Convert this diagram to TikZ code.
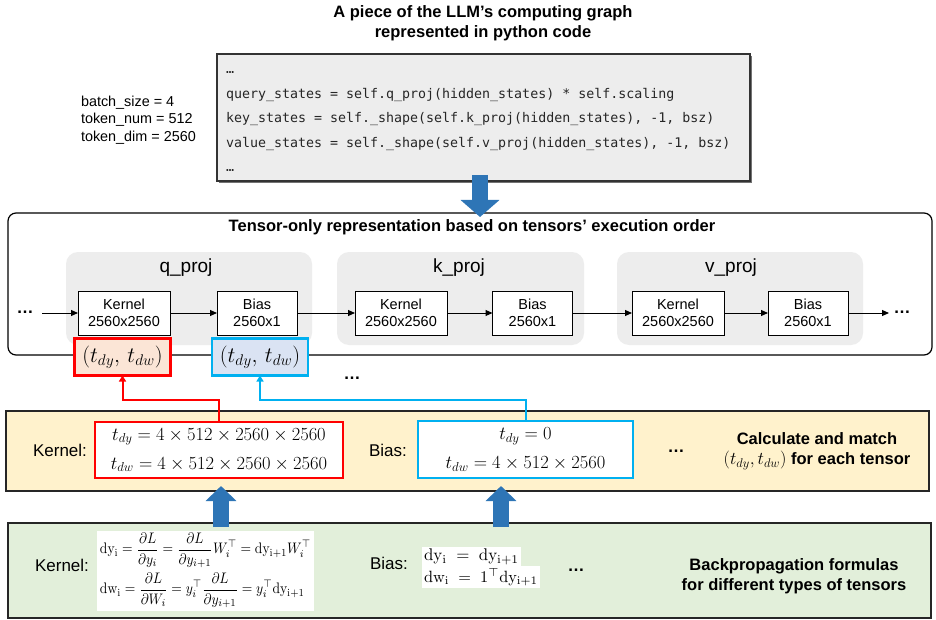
\documentclass[tikz,border=0pt]{standalone}
\usepackage{fix-cm}
\usepackage{amsmath}
\usepackage{graphicx}
\usepackage[no-math]{fontspec}
\setmainfont{Liberation Sans}
\newfontfamily\codefont{DejaVu Sans Mono}
\usetikzlibrary{arrows.meta,calc}
\definecolor{codegray}{HTML}{EDEDED}
\definecolor{grpgray}{HTML}{EDEDED}
\definecolor{bandyellow}{HTML}{FFF2CC}
\definecolor{bandgreen}{HTML}{E2EFDA}
\definecolor{tuplered}{HTML}{FBE5D6}
\definecolor{tupleblue}{HTML}{DAE3F3}
\definecolor{lineblue}{HTML}{00B0F0}
\definecolor{arrowblue}{HTML}{2E75B6}
\begin{document}
\begin{tikzpicture}[x=1pt,y=-1pt,
  every node/.style={inner sep=0pt, outer sep=0pt},
  titletext/.style={font=\fontsize{16.5}{20.5}\selectfont\bfseries, align=center},
  tensorbox/.style={draw=black, line width=0.9pt, fill=white, minimum height=44pt, align=center, font=\fontsize{14.5}{17}\selectfont},
  kernbox/.style={tensorbox, minimum width=92pt},
  biasbox/.style={tensorbox, minimum width=80pt},
  grpbox/.style={fill=grpgray, rounded corners=12pt, minimum height=93pt},
  grplabel/.style={font=\fontsize{19}{22}\selectfont},
  flow/.style={line width=1pt, -{Triangle[length=7pt,width=6pt]}},
  bandlabel/.style={font=\fontsize{17}{20}\selectfont},
  dotstext/.style={font=\fontsize{17}{19}\selectfont\bfseries},
  tuplebox/.style={line width=2.5pt, minimum width=96pt, minimum height=37pt, font=\fontsize{22}{26}\selectfont},
  calcbox/.style={line width=2.5pt, fill=white, align=center, font=\fontsize{18.5}{29}\selectfont},
  band/.style={draw=black!85, line width=1.5pt, minimum width=923pt},
  bigarrow/.style={draw=arrowblue, line width=16pt, -{Triangle[length=17pt,width=38pt]}},
  smallarrow/.style={draw=arrowblue, line width=16pt, -{Triangle[length=15pt,width=30pt]}},
  redlink/.style={draw=red, line width=2pt, -{Triangle[length=6pt,width=7pt]}},
  bluelink/.style={draw=lineblue, line width=2pt, -{Triangle[length=6pt,width=7pt]}},
  whitebox/.style={fill=white, inner sep=2pt}
]
\useasboundingbox (0,0) rectangle (936,620);

% title and parameters
\node[titletext] (title) at (483,23) {A piece of the LLM’s computing graph\\represented in python code};
\node[anchor=west, align=left, font=\fontsize{14.4}{17.5}\selectfont] (params) at (81,120)
  {batch\_size = 4\\token\_num = 512\\token\_dim = 2560};

% code box
\fill[black!55] (219,56) rectangle (752,183);
\node[draw=black!80, line width=1.2pt, fill=codegray, minimum width=533pt, minimum height=127pt] (codebox) at (483.5,117.5) {};
\node[anchor=west, align=left, font=\codefont\fontsize{13.3}{24.5}\selectfont, text=black!85] (code) at (226,118)
  {\strut…\\
   \strut query\_states = self.q\_proj(hidden\_states) * self.scaling\\
   \strut key\_states = self.\_shape(self.k\_proj(hidden\_states), -1, bsz)\\
   \strut value\_states = self.\_shape(self.v\_proj(hidden\_states), -1, bsz)\\
   \strut…};

% tensor-only representation
\node[draw=black, line width=1.2pt, fill=white, rounded corners=8pt, minimum width=924pt, minimum height=142pt] (big) at (470,284) {};
\node[titletext] (bigtitle) at (472,227.5) {Tensor-only representation based on tensors’ execution order};

\node[grpbox, minimum width=246pt] (gq) at (189,298.5) {};
\node[grpbox, minimum width=247pt] (gk) at (460.5,298.5) {};
\node[grpbox, minimum width=246pt] (gv) at (740,298.5) {};
\node[grplabel] (lq) at (186,268) {q\_proj};
\node[grplabel] (lk) at (459,268) {k\_proj};
\node[grplabel] (lv) at (731,268) {v\_proj};

\node[kernbox] (kq) at (124,313) {Kernel\\2560x2560};
\node[biasbox] (bq) at (257,313) {Bias\\2560x1};
\node[kernbox] (kk) at (401,313) {Kernel\\2560x2560};
\node[biasbox] (bk) at (532.5,313) {Bias\\2560x1};
\node[kernbox] (kv) at (678,313) {Kernel\\2560x2560};
\node[biasbox] (bv) at (808,313) {Bias\\2560x1};

\node[dotstext] (dl) at (25,312) {…};
\node[dotstext] (dr) at (902,312) {…};
\coordinate (s0) at (42,313);
\coordinate (e0) at (889,313);
\draw[flow] (s0) -- (kq.west);
\draw[flow] (kq.east) -- (bq.west);
\draw[flow] (bq.east) -- (kk.west);
\draw[flow] (kk.east) -- (bk.west);
\draw[flow] (bk.east) -- (kv.west);
\draw[flow] (kv.east) -- (bv.west);
\draw[flow] (bv.east) -- (e0);

% arrow from code to tensor representation
\draw[bigarrow] ([xshift=-3.5pt,yshift=6pt]codebox.south) -- ([xshift=10pt,yshift=-4pt]big.north);

% tuple boxes
\node[tuplebox, draw=red, fill=tuplered] (tr) at (122.5,357) {$(t_{dy},\,t_{dw})$};
\node[tuplebox, draw=lineblue, fill=tupleblue] (tb) at (260,357) {$(t_{dy},\,t_{dw})$};
\node[dotstext] (dm) at (352,378) {…};

% calculate band
\node[band, fill=bandyellow, minimum height=80pt] (yb) at (467.5,451) {};
\node[bandlabel] (ykl) at (60,450) {Kernel:};
\node[bandlabel] (ybl) at (388,450) {Bias:};
\node[calcbox, draw=red, minimum width=248pt, minimum height=56pt] (ck) at (219,450)
  {$t_{dy} = 4\times512\times2560\times2560$\\$t_{dw} = 4\times512\times2560\times2560$};
\node[calcbox, draw=lineblue, minimum width=215pt, minimum height=57pt] (cb) at (525.5,449.5)
  {$t_{dy} = 0$\\$t_{dw} = 4\times512\times2560$};
\node[dotstext] (dy) at (676,451) {…};
\node[titletext, font=\fontsize{16.5}{20}\selectfont\bfseries] (calc) at (817,451)
  {Calculate and match\\{\fontsize{18}{20}\selectfont\mdseries$(t_{dy},t_{dw})$} for each tensor};

% backpropagation band
\node[band, fill=bandgreen, minimum height=95pt] (gb) at (469.5,570.5) {};
\node[bandlabel] (gkl) at (62,565) {Kernel:};
\node[bandlabel] (gbl) at (389,563) {Bias:};
\node[whitebox, inner sep=2.5pt] (kf) at (205.5,570.5)
  {\resizebox*{211pt}{75pt}{$\begin{array}{@{}l@{}}
   \displaystyle \mathrm{dy_i} = \frac{\partial L}{\partial y_i} = \frac{\partial L}{\partial y_{i+1}} W_i^{\top} = \mathrm{dy_{i+1}} W_i^{\top}\\[9pt]
   \displaystyle \mathrm{dw_i} = \frac{\partial L}{\partial W_i} = y_i^{\top} \frac{\partial L}{\partial y_{i+1}} = y_i^{\top} \mathrm{dy_{i+1}}
   \end{array}$}};
\node[whitebox, anchor=west] (bf1) at (422,557) {\resizebox{95pt}{!}{$\mathrm{dy_i}\ =\ \mathrm{dy_{i+1}}$}};
\node[whitebox, anchor=west] (bf2) at (422,577) {\resizebox{114pt}{!}{$\mathrm{dw_i}\ =\ 1^{\top}\mathrm{dy_{i+1}}$}};
\node[dotstext] (dg) at (576,570) {…};
\node[titletext] (bp) at (794,576) {Backpropagation formulas\\for different types of tensors};

% arrows between bands
\draw[smallarrow] ($(ck.south |- gb.north)+(2,4)$) -- ($(ck.south |- yb.south)+(2,-5)$);
\draw[smallarrow] ($(cb.south |- gb.north)+(-24.5,4)$) -- ($(cb.south |- yb.south)+(-24.5,-5)$);

% links to tuple boxes
\draw[redlink] (ck.north) -- ++(0,-22) -| (tr.south);
\draw[bluelink] (cb.north) -- ++(0,-21) -| (tb.south);
\end{tikzpicture}
\end{document}
